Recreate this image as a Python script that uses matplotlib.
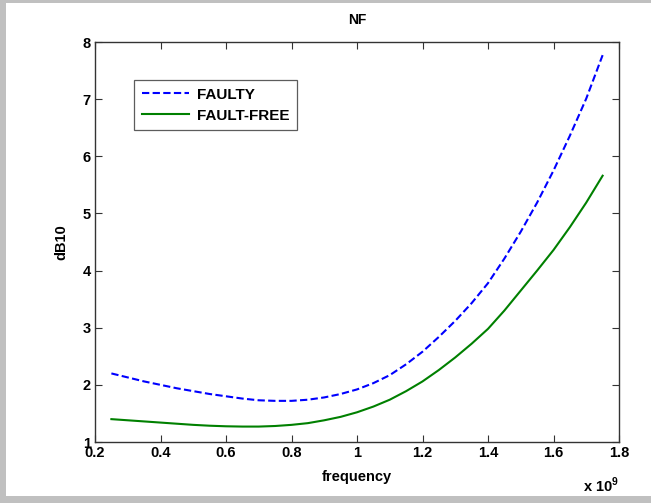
import matplotlib
matplotlib.use("Agg")
import matplotlib.pyplot as plt
from matplotlib.patches import Rectangle

plt.rcParams['font.family'] = ['Liberation Sans', 'DejaVu Sans']
plt.rcParams['font.weight'] = 'bold'

freq = [0.25, 0.30, 0.35, 0.40, 0.45, 0.50, 0.55, 0.60, 0.65, 0.70, 0.75, 0.80,
        0.85, 0.90, 0.95, 1.00, 1.05, 1.10, 1.15, 1.20, 1.25, 1.30, 1.35, 1.40,
        1.45, 1.50, 1.55, 1.60, 1.65, 1.70, 1.75]
faulty = [2.20, 2.13, 2.06, 2.00, 1.94, 1.89, 1.84, 1.80, 1.76, 1.73, 1.72, 1.72,
          1.74, 1.78, 1.84, 1.92, 2.03, 2.17, 2.36, 2.58, 2.84, 3.12, 3.43, 3.78,
          4.21, 4.68, 5.19, 5.75, 6.36, 7.01, 7.77]
fault_free = [1.40, 1.38, 1.36, 1.34, 1.32, 1.30, 1.285, 1.275, 1.27, 1.27, 1.28, 1.30,
              1.33, 1.38, 1.44, 1.52, 1.62, 1.74, 1.89, 2.06, 2.26, 2.48, 2.72, 2.98,
              3.30, 3.65, 4.00, 4.36, 4.76, 5.19, 5.66]
series_names = ['FAULTY', 'FAULT-FREE']
xticks = [0.2, 0.4, 0.6, 0.8, 1.0, 1.2, 1.4, 1.6, 1.8]
xticklabels = ['0.2', '0.4', '0.6', '0.8', '1', '1.2', '1.4', '1.6', '1.8']
yticks = [1, 2, 3, 4, 5, 6, 7, 8]

W, H = 651, 503
fig = plt.figure(figsize=(W / 100, H / 100), dpi=100)
fig.patch.set_facecolor('white')
gray = '#c0c0c0'
for (x0, y0, w, h) in [(0, 0, 6 / W, 1), (0, 0, 1, 7 / H), (0, 1 - 3 / H, 1, 3 / H)]:
    fig.add_artist(Rectangle((x0, y0), w, h, transform=fig.transFigure,
                             facecolor=gray, edgecolor='none', zorder=-10))

ax = fig.add_axes([95 / W, (H - 442) / H, (619 - 95) / W, (442 - 42) / H])
ax.plot(freq, faulty, color='#0000ff', lw=1.5, ls='--', dashes=(3.5, 1.6),
        label=series_names[0])
ax.plot(freq, fault_free, color='#008000', lw=1.5, label=series_names[1])

ax.set_xlim(0.2, 1.8)
ax.set_ylim(1, 8)
ax.set_xticks(xticks)
ax.set_xticklabels(xticklabels)
ax.set_yticks(yticks)
ax.tick_params(direction='in', length=5, width=0.8, top=True, right=True,
               labelsize=10.5, pad=3, color='#333333')
for lab in ax.get_xticklabels() + ax.get_yticklabels():
    lab.set_fontweight('bold')
for s in ax.spines.values():
    s.set_linewidth(1.0)
    s.set_color('#333333')

ax.set_title('NF', fontsize=10, fontweight='bold', pad=13)
ax.set_xlabel('frequency', fontsize=10.5, fontweight='bold', labelpad=7)
ax.set_ylabel('dB10', fontsize=10.5, fontweight='bold', labelpad=10)

ax.text(1.0, -0.085, r'x 10$^{\mathregular{9}}$', transform=ax.transAxes,
        ha='right', va='top', fontsize=10.5, fontweight='bold')

leg = ax.legend(loc='upper left', bbox_to_anchor=(0.0744, 0.905), fontsize=11,
                frameon=True, fancybox=False, handlelength=3.1, handletextpad=0.5,
                borderpad=0.5, labelspacing=0.45, borderaxespad=0)
leg.get_frame().set_edgecolor('#333333')
leg.get_frame().set_linewidth(0.9)
for t in leg.get_texts():
    t.set_fontweight('bold')

fig.savefig('out.png', dpi=100, facecolor=fig.get_facecolor())
